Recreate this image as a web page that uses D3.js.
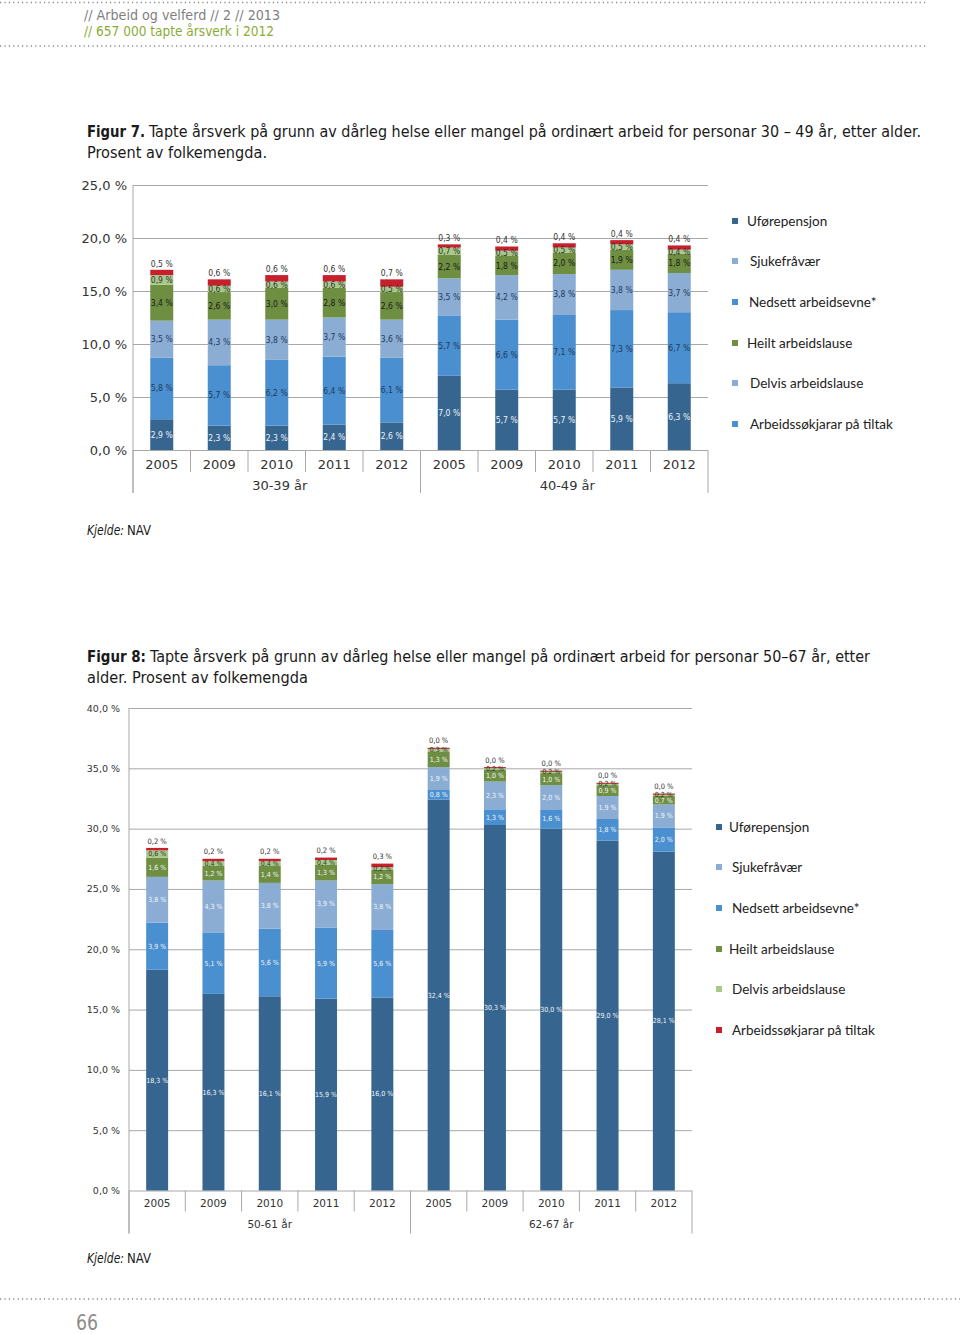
<!DOCTYPE html>
<html><head><meta charset="utf-8">
<script src="https://cdn.jsdelivr.net/npm/d3@7"></script>
<style>body{margin:0;background:#fff}</style>
</head><body><svg id="c" width="960" height="1334"></svg>
<script>
// ---------- DATA ----------
const years = ["2005","2009","2010","2011","2012"];
const groups7 = ["30-39 år","40-49 år"];
const groups8 = ["50-61 år","62-67 år"];
const legendNames = ["Uførepensjon","Sjukefråvær","Nedsett arbeidsevne*","Heilt arbeidslause","Delvis arbeidslause","Arbeidssøkjarar på tiltak"];
const stackOrder = ["Uførepensjon","Nedsett arbeidsevne*","Sjukefråvær","Heilt arbeidslause","Delvis arbeidslause","Arbeidssøkjarar på tiltak"];

// Figur 7 (30-39 år x5, 40-49 år x5)
const f7_ufore   = [2.9,2.3,2.3,2.4,2.6, 7.0,5.7,5.7,5.9,6.3];
const f7_nedsett = [5.8,5.7,6.2,6.4,6.1, 5.7,6.6,7.1,7.3,6.7];
const f7_sjuke   = [3.5,4.3,3.8,3.7,3.6, 3.5,4.2,3.8,3.8,3.7];
const f7_heilt   = [3.4,2.6,3.0,2.8,2.6, 2.2,1.8,2.0,1.9,1.8];
const f7_delvis  = [0.9,0.6,0.6,0.6,0.5, 0.7,0.5,0.5,0.5,0.4];
const f7_tiltak  = [0.5,0.6,0.6,0.6,0.7, 0.3,0.4,0.4,0.4,0.4];
const f7_ticks   = [0,5,10,15,20,25];

// Figur 8 (50-61 år x5, 62-67 år x5)
const f8_ufore   = [18.3,16.3,16.1,15.9,16.0, 32.4,30.3,30.0,29.0,28.1];
const f8_nedsett = [3.9,5.1,5.6,5.9,5.6, 0.8,1.3,1.6,1.8,2.0];
const f8_sjuke   = [3.8,4.3,3.8,3.9,3.8, 1.9,2.3,2.0,1.9,1.9];
const f8_heilt   = [1.6,1.2,1.4,1.3,1.2, 1.3,1.0,1.0,0.9,0.7];
const f8_delvis  = [0.6,0.4,0.4,0.4,0.2, 0.3,0.2,0.2,0.2,0.2];
const f8_tiltak  = [0.2,0.2,0.2,0.2,0.3, 0.0,0.0,0.0,0.0,0.0];
const f8_ticks   = [0,5,10,15,20,25,30,35,40];

// ---------- STYLE ----------
const C = {
  ufore:"#36658f", nedsett:"#4a8fcf", sjuke:"#8badd4", heilt:"#6e8f41", delvis:"#a8c98a", tiltak:"#c7202c"
};
const stackColors = [C.ufore, C.nedsett, C.sjuke, C.heilt, C.delvis, C.tiltak];
const legend7Colors = [C.ufore, C.sjuke, C.nedsett, C.heilt, C.sjuke, C.nedsett];
const legend8Colors = [C.ufore, C.sjuke, C.nedsett, C.heilt, C.delvis, C.tiltak];
const COND = "'Liberation Sans Narrow','DejaVu Sans Condensed',sans-serif";
const VER = "'DejaVu Sans',Verdana,sans-serif";
const VERC = "'DejaVu Sans Condensed','DejaVu Sans',sans-serif";
const LEG = "Lato,'Liberation Sans',sans-serif";

const svg = d3.select("#c");
svg.append("rect").attr("width",960).attr("height",1334).attr("fill","#fff");

const fmtVal = v => d3.format(".1f")(v).replace(".", ",") + " %";

// ---------- PAGE DECOR ----------
function dotted(yy, x2){
  svg.append("line").attr("x1",0).attr("x2",x2).attr("y1",yy).attr("y2",yy)
    .attr("stroke","#8a8a8a").attr("stroke-width",1.4).attr("stroke-dasharray","1.2,3.2");
}
dotted(2.5, 928); dotted(46, 928); dotted(1299, 960);

function fitText(txt, x, y, w, size, fill, weight, style, family){
  return svg.append("text").attr("x",x).attr("y",y).text(txt)
    .attr("font-family", family || COND).attr("font-size", size).attr("fill", fill)
    .attr("font-weight", weight || "normal").attr("font-style", style || "normal")
    .attr("textLength", w).attr("lengthAdjust","spacingAndGlyphs");
}
fitText("// Arbeid og velferd  //  2  // 2013", 84, 20, 196, 14, "#7f7f7f");
fitText("// 657 000 tapte årsverk i 2012", 84, 36, 190, 14, "#8aab3a");

fitText("Figur 7.", 87, 137, 58, 16.5, "#1a1a1a", "bold");
fitText("Tapte årsverk på grunn av dårleg helse eller mangel på ordinært arbeid for personar 30 – 49 år, etter alder.", 149, 137, 772, 16.5, "#1a1a1a");
fitText("Prosent av folkemengda.", 87, 158, 180, 16.5, "#1a1a1a");

fitText("Figur 8:", 87, 662, 59, 16.5, "#1a1a1a", "bold");
fitText("Tapte årsverk på grunn av dårleg helse eller mangel på ordinært arbeid for personar 50–67 år, etter", 150, 662, 720, 16.5, "#1a1a1a");
fitText("alder. Prosent av folkemengda", 87, 683, 221, 16.5, "#1a1a1a");

fitText("Kjelde:", 87, 535, 37, 13.5, "#1a1a1a", "normal", "italic");
fitText("NAV", 127, 535, 24, 13.5, "#1a1a1a");
fitText("Kjelde:", 87, 1263, 37, 13.5, "#1a1a1a", "normal", "italic");
fitText("NAV", 127, 1263, 24, 13.5, "#1a1a1a");

fitText("66", 76, 1330, 22, 21, "#8c8c8c");

// ---------- CHART ----------
function drawChart(o){
  const rows = d3.range(10).map(i => {
    const r = {i};
    stackOrder.forEach((k,j) => r[k] = o.series[j][i]);
    return r;
  });
  const layers = d3.stack().keys(stackOrder)(rows);
  const x = d3.scaleBand().domain(d3.range(10)).range([o.x0, o.x1]);
  const y = d3.scaleLinear().domain([0, o.yMax]).range([o.y0, o.yTop]);
  const bw = x.bandwidth() * o.barRatio;
  const g = svg.append("g");

  // gridlines + y labels
  g.append("g").attr("transform", `translate(${o.x0},0)`)
    .call(d3.axisLeft(y).tickValues(o.ticks).tickSize(-(o.x1 - o.x0)).tickPadding(o.tickPad)
      .tickFormat(v => d3.format(".1f")(v).replace(".", ",") + " %"))
    .call(s => s.select(".domain").remove())
    .call(s => s.selectAll(".tick line").attr("stroke","#a8a8a8").attr("stroke-width",1))
    .call(s => s.selectAll(".tick text").attr("font-family", VER).attr("font-size", o.tickFont).attr("fill","#333"));

  // left axis line
  g.append("line").attr("x1",o.x0).attr("x2",o.x0).attr("y1",o.yTop).attr("y2",o.y0 + o.groupLine)
    .attr("stroke","#a8a8a8");

  // category separators
  d3.range(11).forEach(i => {
    const xx = i < 10 ? x(i) : o.x1;
    const isGroup = (i % 5 === 0);
    g.append("line").attr("x1",xx).attr("x2",xx).attr("y1",o.y0)
      .attr("y2", o.y0 + (isGroup ? o.groupLine : o.catLine))
      .attr("stroke","#a8a8a8");
  });

  // year labels
  g.selectAll(".yr").data(d3.range(10)).join("text")
    .attr("x", i => x(i) + x.bandwidth()/2).attr("y", o.y0 + o.yearDy)
    .attr("text-anchor","middle").attr("font-family", VER).attr("font-size", o.yearFont)
    .attr("fill","#333").text(i => years[i % 5]);

  // group labels
  o.groups.forEach((gname, gi) => {
    const cx = (x(gi*5) + (gi === 1 ? o.x1 : x(5))) / 2 + o.groupShift;
    g.append("text").attr("x", cx).attr("y", o.y0 + o.groupDy)
      .attr("text-anchor","middle").attr("font-family", VER).attr("font-size", o.yearFont)
      .attr("fill","#333").text(gname);
  });

  // bars
  layers.forEach((layer, j) => {
    g.append("g").selectAll("rect").data(layer).join("rect")
      .attr("x", d => x(d.data.i) + (x.bandwidth() - bw)/2)
      .attr("width", bw)
      .attr("y", d => y(d[1]))
      .attr("height", d => Math.max(y(d[0]) - y(d[1]), o.minH))
      .attr("fill", stackColors[j]);
  });

  // labels
  layers.forEach((layer, j) => {
    const last = j === layers.length - 1;
    g.append("g").selectAll("text").data(layer).join("text")
      .attr("x", d => x(d.data.i) + x.bandwidth()/2)
      .attr("y", d => last ? y(d[1]) - o.topOff : y((d[0] + d[1]) / 2))
      .attr("dy","0.35em")
      .attr("text-anchor","middle")
      .attr("font-family", VERC)
      .attr("font-size", last ? o.topFont : o.labelFont)
      .attr("fill", o.labelColors[j])
      .text(d => fmtVal(d[1] - d[0]));
  });

  // legend
  o.legendY.forEach((ly, k) => {
    svg.append("rect").attr("x", o.legX).attr("y", ly - 3).attr("width", 6).attr("height", 6)
      .attr("fill", o.legendColors[k]);
    svg.append("text").attr("x", o.legTX + o.legOff[k]).attr("y", ly).attr("dy","0.35em")
      .attr("font-family", LEG).attr("font-size", 13.5).attr("fill","#222")
      .text(legendNames[k]);
  });
}

drawChart({
  series:[f7_ufore,f7_nedsett,f7_sjuke,f7_heilt,f7_delvis,f7_tiltak],
  x0:133, x1:708, y0:450, yTop:185, yMax:25, ticks:f7_ticks,
  barRatio:0.4, tickPad:6, tickFont:13, yearFont:13,
  catLine:22, groupLine:43, yearDy:19, groupDy:40, groupShift:3,
  groups:groups7, minH:0, topOff:6, labelFont:8.5, topFont:8.5,
  labelColors:["#eef3fa","#1f3a5c","#1f3a5c","#1a1a1a","#333","#333"],
  legX:732, legTX:747, legOff:[0,3,2,0,3,3],
  legendY:[221,261,302,343,383,424], legendColors:legend7Colors
});

drawChart({
  series:[f8_ufore,f8_nedsett,f8_sjuke,f8_heilt,f8_delvis,f8_tiltak],
  x0:129, x1:692, y0:1190.5, yTop:708, yMax:40, ticks:f8_ticks,
  barRatio:0.39, tickPad:9, tickFont:9.5, yearFont:10.5,
  catLine:21, groupLine:43, yearDy:16.5, groupDy:37, groupShift:0,
  groups:groups8, minH:1, topOff:7, labelFont:7, topFont:7.5,
  labelColors:["#f2f5fa","#f2f5fa","#f2f5fa","#f2f5fa","#333","#333"],
  legX:716, legTX:729, legOff:[0,3,3,0,3,3],
  legendY:[827,867,908,949,989,1030], legendColors:legend8Colors
});
</script></body></html>
